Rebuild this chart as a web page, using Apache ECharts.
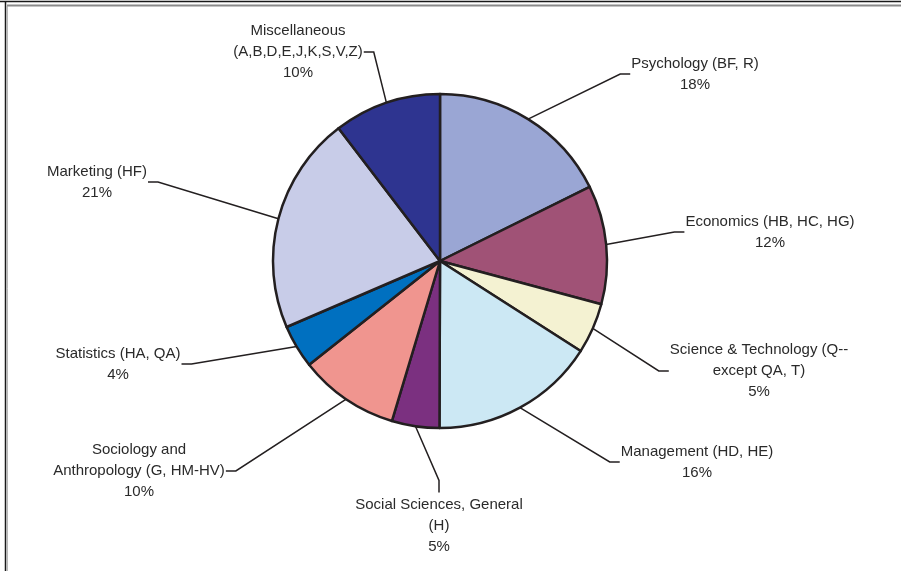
<!DOCTYPE html>
<html>
<head>
<meta charset="utf-8">
<script src="https://cdn.jsdelivr.net/npm/echarts@6/dist/echarts.min.js"></script>
<style>
html,body{margin:0;padding:0;background:#fff;}
#chart{width:901px;height:571px;}
</style>
</head>
<body>
<div id="chart"></div>
<script>
// ---- data ----
var categories = [
  'Psychology (BF, R)',
  'Economics (HB, HC, HG)',
  'Science & Technology (Q--\nexcept QA, T)',
  'Management (HD, HE)',
  'Social Sciences, General\n(H)',
  'Sociology and\nAnthropology (G, HM-HV)',
  'Statistics (HA, QA)',
  'Marketing (HF)',
  'Miscellaneous\n(A,B,D,E,J,K,S,V,Z)'
];
var shares = [17.7, 11.5, 4.9, 16.0, 4.6, 9.7, 4.2, 21.1, 10.4];

// ---- styles / layout ----
var colors = ['#9aa6d4', '#a05276', '#f4f2d2', '#cce8f4', '#7b3080', '#f0958f', '#0070c0', '#c8cce8', '#2e3490'];
// label block centre [x, y] and which side the leader line attaches to
var labelPlacement = [
  [695, 74, 'left'],
  [770, 232, 'left'],
  [759, 371, 'left'],
  [697, 462, 'left'],
  [439, 526, 'top'],
  [139, 471, 'right'],
  [118, 364, 'right'],
  [97, 182, 'right'],
  [298, 52, 'right']
];

var chart = echarts.init(document.getElementById('chart'), null, {renderer: 'canvas'});

var seriesData = categories.map(function (c, i) {
  return {name: c, value: shares[i], itemStyle: {color: colors[i]}};
});

chart.setOption({
  animation: false,
  backgroundColor: '#ffffff',
  graphic: [
    {type: 'line', shape: {x1: 0, y1: 1.5, x2: 901, y2: 1.5}, style: {stroke: '#1a1a1a', lineWidth: 1.5}, silent: true},
    {type: 'line', shape: {x1: 7, y1: 5.5, x2: 901, y2: 5.5}, style: {stroke: '#8a8a8a', lineWidth: 2}, silent: true},
    {type: 'line', shape: {x1: 5.5, y1: 1, x2: 5.5, y2: 571}, style: {stroke: '#1a1a1a', lineWidth: 1.5}, silent: true},
    {type: 'line', shape: {x1: 7.2, y1: 6, x2: 7.2, y2: 571}, style: {stroke: '#9a9a9a', lineWidth: 1}, silent: true}
  ],
  series: [{
    type: 'pie',
    center: [440, 261],
    radius: 167,
    startAngle: 90,
    clockwise: true,
    avoidLabelOverlap: false,
    itemStyle: {borderColor: '#231f20', borderWidth: 2.5},
    label: {
      show: true,
      position: 'outside',
      fontFamily: 'Liberation Sans, Arial, sans-serif',
      fontSize: 15,
      lineHeight: 21,
      color: '#2a2a2a',
      align: 'center',
      formatter: function (p) {
        return p.name + '\n' + Math.round(p.value) + '%';
      }
    },
    labelLine: {
      show: true,
      length: 20,
      length2: 10,
      lineStyle: {color: '#231f20', width: 1.5}
    },
    labelLayout: function (params) {
      var pl = labelPlacement[params.dataIndex];
      var cx = pl[0], cy = pl[1], side = pl[2];
      var w = params.labelRect.width, h = params.labelRect.height;
      var p0 = params.labelLinePoints ? params.labelLinePoints[0] : null;
      var end, elbow;
      if (side === 'left') {
        end = [cx - w / 2 - 1, cy];
        elbow = [end[0] - 10, cy];
      } else if (side === 'right') {
        end = [cx + w / 2 + 1, cy];
        elbow = [end[0] + 10, cy];
      } else {
        end = [cx, cy - h / 2 - 2];
        elbow = [cx, end[1] - 12];
      }
      var res = {x: cx, y: cy, align: 'center', verticalAlign: 'middle'};
      if (p0) res.labelLinePoints = [p0, elbow, end];
      return res;
    },
    data: seriesData
  }]
});
</script>
</body>
</html>
